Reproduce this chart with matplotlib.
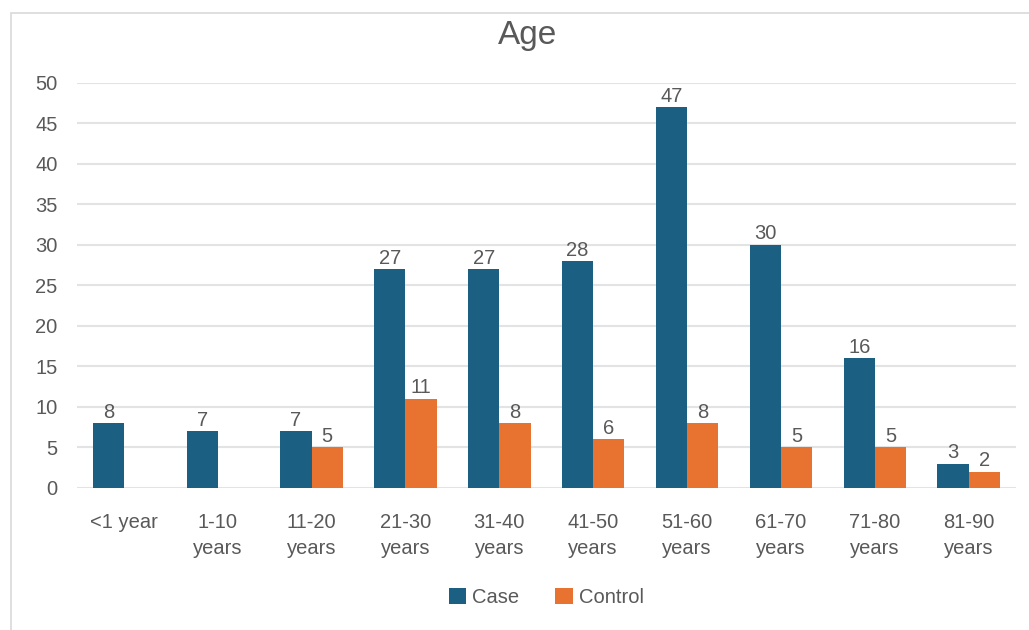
import numpy as np
import matplotlib
matplotlib.use("Agg")
import matplotlib.pyplot as plt
from matplotlib.patches import Rectangle

categorias = ["<1 year", "1-10\nyears", "11-20\nyears", "21-30\nyears", "31-40\nyears",
              "41-50\nyears", "51-60\nyears", "61-70\nyears", "71-80\nyears", "81-90\nyears"]
caso = [8, 7, 7, 27, 27, 28, 47, 30, 16, 3]
controle = [None, None, 5, 11, 8, 6, 8, 5, 5, 2]
y_ticks = [0, 5, 10, 15, 20, 25, 30, 35, 40, 45, 50]

cor_caso = "#1b5f82"
cor_controle = "#e8722f"
cor_texto = "#595959"

plt.rcParams["font.family"] = ["Liberation Sans", "DejaVu Sans"]

fig = plt.figure(figsize=(10.29, 6.3), dpi=100)
ax = fig.add_axes([0.0748, 0.2254, 0.9122, 0.6429])

# moldura do grafico
fig.patches.append(Rectangle((11 / 1029, -0.01), 1.1, 1 - 13 / 630 + 0.01,
                             transform=fig.transFigure, fill=False,
                             edgecolor="#d9d9d9", linewidth=1.2))

x = np.arange(len(categorias))
largura = 0.333
ctrl_vals = [v if v is not None else 0 for v in controle]

b1 = ax.bar(x - largura / 2, caso, largura, color=cor_caso, label="Case", zorder=3)
b2 = ax.bar(x + largura / 2, ctrl_vals, largura, color=cor_controle, label="Control", zorder=3)

for rect, v in zip(b1, caso):
    ax.text(rect.get_x() + rect.get_width() / 2, v + 0.2, str(v), ha="center", va="bottom",
            fontsize=14.5, color=cor_texto)
for rect, v in zip(b2, controle):
    if v is None:
        continue
    ax.text(rect.get_x() + rect.get_width() / 2, v + 0.2, str(v), ha="center", va="bottom",
            fontsize=14.5, color=cor_texto)

ax.set_xlim(-0.5, len(categorias) - 0.5)
ax.set_ylim(0, 50)
ax.set_yticks(y_ticks)
ax.set_xticks(x)
ax.set_xticklabels(categorias, fontsize=14.5, color=cor_texto, linespacing=1.5)
ax.tick_params(axis="y", labelsize=14.5, labelcolor=cor_texto, length=0, pad=14)
ax.tick_params(axis="x", length=0, pad=18)
ax.grid(axis="y", color="#e3e3e3", linewidth=1.5, zorder=0)
for s in ax.spines.values():
    s.set_visible(False)

fig.text(0.513, 0.943, "Age", ha="center", va="center", fontsize=24, color=cor_texto)

ax.legend(loc="center", bbox_to_anchor=(0.5, -0.27), ncol=2, frameon=False,
          fontsize=14.5, labelcolor=cor_texto, handlelength=0.85, handleheight=0.85,
          handletextpad=0.3, columnspacing=1.8)

fig.savefig("out.png", dpi=100)
